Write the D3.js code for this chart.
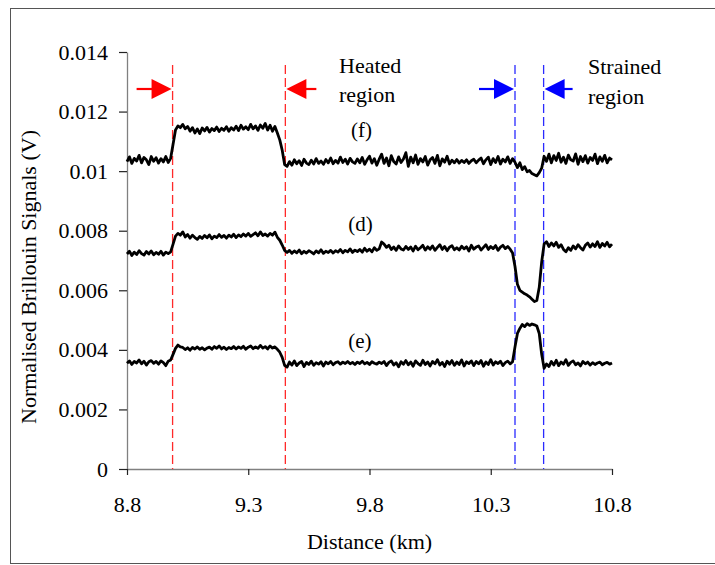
<!DOCTYPE html>
<html>
<head>
<meta charset="utf-8">
<script src="https://cdn.jsdelivr.net/npm/d3@7"></script>
<style>
body { margin: 0; background: #fff; }
svg, svg text { font-family: "Liberation Serif", "Times New Roman", serif !important; }
</style>
</head>
<body>
<div id="graph"></div>
<script>
!(function(){
"use strict"

// axis ticks
var xTicks = [8.8, 9.3, 9.8, 10.3, 10.8]
var yTicks = [0, 0.002, 0.004, 0.006, 0.008, 0.01, 0.012, 0.014]

var distStart = 8.8, distStep = 0.01
var traceF = [
	10.32,10.48,10.26,10.43,10.34,10.53,10.28,10.46,10.38,10.22,10.49,10.33,10.45,10.27,10.42,10.31,10.49,10.29,10.43,
	10.90,
	11.38,11.52,11.46,11.57,11.42,11.50,11.34,11.46,11.28,11.42,
	11.26,11.45,11.35,11.47,11.31,11.43,11.36,11.48,11.33,11.44,
	11.37,11.49,11.34,11.46,11.38,11.51,11.36,11.54,11.41,11.49,
	11.39,11.57,11.42,11.52,11.37,11.55,11.44,11.60,11.38,11.54,
	11.34,11.50,11.28,
	11.05,10.70,10.22,
	10.16,10.32,10.20,10.38,10.25,10.35,10.19,10.40,10.27,10.22,
	10.37,10.24,10.42,10.26,10.34,10.23,10.39,10.28,10.44,10.25,
	10.36,10.27,10.47,10.29,10.40,10.24,10.43,10.31,10.26,10.41,
	10.28,10.46,10.23,10.38,10.50,10.27,10.42,10.20,10.40,10.57,
	10.26,10.44,10.18,10.52,10.32,10.24,10.48,10.29,10.41,10.62,
	10.16,10.47,10.28,10.54,10.23,10.42,10.31,10.49,10.20,10.38,
	10.46,10.26,10.53,10.18,10.41,10.30,10.50,10.24,10.37,10.28,
	10.39,10.27,10.36,10.29,10.38,10.26,10.35,10.40,10.28,10.37,
	10.44,10.25,10.38,10.47,10.22,10.42,10.29,10.49,10.24,10.40,
	10.31,10.48,10.26,10.42,
	10.30,10.12,10.28,10.05,10.15,9.98,10.02,9.92,9.88,9.84,9.95,10.10,
	10.50,10.33,10.57,10.28,10.52,10.36,10.60,10.30,10.47,10.26,
	10.54,10.38,10.34,10.58,10.23,10.49,10.32,10.52,10.27,10.46,
	10.36,10.57,10.25,10.48,10.33,10.53,10.28,10.44,10.38
]
var traceD = [
	7.22,7.31,7.17,7.28,7.20,7.33,7.23,7.18,7.30,7.22,7.32,7.19,7.27,7.21,7.31,7.18,7.28,7.23,7.29,
	7.55,
	7.82,7.91,7.85,7.96,7.79,7.87,7.75,7.85,7.77,7.71,
	7.81,7.74,7.84,7.76,7.86,7.73,7.82,7.77,7.87,7.78,
	7.84,7.75,7.85,7.79,7.88,7.77,7.86,7.80,7.89,7.82,
	7.91,7.81,7.87,7.93,7.83,7.96,7.84,7.89,7.82,7.91,
	7.85,7.95,7.78,
	7.68,7.52,7.34,
	7.27,7.34,7.24,7.32,7.26,7.35,7.23,7.31,7.25,7.33,
	7.28,7.22,7.32,7.26,7.36,7.24,7.31,7.27,7.34,7.25,
	7.33,7.28,7.37,7.26,7.34,7.29,7.39,7.27,7.35,7.30,
	7.37,7.28,7.41,7.31,7.38,7.29,7.43,7.34,7.39,7.62,
	7.55,7.44,7.51,7.37,7.45,7.34,7.49,7.39,7.35,7.47,
	7.37,7.45,7.32,7.48,7.36,7.43,7.51,7.35,7.46,7.38,
	7.49,7.34,7.44,7.53,7.37,7.47,7.33,7.45,7.50,7.36,
	7.43,7.35,7.48,7.39,7.46,7.32,7.51,7.38,7.45,7.49,
	7.35,7.44,7.53,7.37,7.47,7.40,7.50,7.34,7.45,7.51,
	7.40,7.47,7.38,7.25,
	6.80,6.20,6.00,5.94,5.88,5.84,5.78,5.70,5.62,5.66,6.10,6.95,
	7.55,7.63,7.47,7.59,7.49,7.61,7.44,7.53,7.37,7.29,
	7.43,7.34,7.49,7.39,7.53,7.43,7.35,7.51,7.59,7.45,
	7.56,7.47,7.63,7.44,7.57,7.49,7.61,7.46,7.55
]
var traceE = [
	3.55,3.63,3.51,3.61,3.56,3.66,3.53,3.62,3.49,3.60,3.64,3.55,3.61,3.52,3.63,3.57,3.47,3.62,3.66,
	3.85,
	4.05,4.16,4.10,4.08,4.01,4.07,3.99,4.08,4.03,4.10,
	4.02,4.07,4.00,4.06,4.09,4.02,4.11,4.05,4.13,4.03,
	4.09,4.01,4.08,4.04,4.11,4.03,4.10,4.05,4.12,4.02,
	4.09,4.13,4.04,4.10,4.05,4.15,4.06,4.11,4.03,4.13,
	4.06,4.10,4.02,
	3.92,3.75,3.48,
	3.42,3.59,3.49,3.63,3.47,3.56,3.61,3.44,3.58,3.51,
	3.62,3.48,3.57,3.52,3.60,3.46,3.59,3.53,3.61,3.50,
	3.57,3.60,3.52,3.59,3.54,3.61,3.53,3.58,3.51,3.59,
	3.54,3.62,3.53,3.58,3.51,3.60,3.55,3.52,3.59,3.54,
	3.61,3.47,3.58,3.63,3.49,3.57,3.43,3.60,3.52,3.64,
	3.50,3.59,3.45,3.63,3.54,3.48,3.65,3.51,3.59,3.46,
	3.61,3.53,3.67,3.49,3.58,3.44,3.62,3.52,3.64,3.48,
	3.59,3.51,3.66,3.46,3.60,3.54,3.63,3.47,3.61,3.53,
	3.64,3.45,3.59,3.51,3.67,3.49,3.60,3.54,3.62,3.47,
	3.57,3.62,3.53,3.60,
	4.10,4.55,4.72,4.85,4.78,4.88,4.82,4.87,4.84,4.80,4.55,3.85,
	3.38,3.53,3.44,3.61,3.49,3.65,3.47,3.59,3.52,3.67,
	3.48,3.58,3.63,3.50,3.56,3.46,3.61,3.53,3.59,3.49,
	3.57,3.51,3.56,3.59,3.50,3.55,3.58,3.52,3.56
]
var traceNames = ["(f)", "(d)", "(e)"]
var heatedEdges = [8.988, 9.453]
var strainEdges = [10.40, 10.518]

var serif = "'Liberation Serif', 'Times New Roman', serif"
var width = 715, height = 565
var svg = d3.select("#graph").append("svg")
	.attr("width", width).attr("height", height)
	.style("font-family", serif)

// outer frame (right edge falls outside the picture)
svg.append("rect")
	.attr("x", 10.5).attr("y", 8.5).attr("width", 720).attr("height", 555)
	.attr("fill", "none").attr("stroke", "#555").attr("stroke-width", 1)

var x = d3.scaleLinear().domain([8.8, 10.8]).range([127, 612])
var y = d3.scaleLinear().domain([0, 0.014]).range([469, 52])

var yAxis = svg.append("g")
	.attr("transform", "translate(127,0)")
	.call(d3.axisLeft(y).tickValues(yTicks).tickSize(8).tickPadding(11).tickSizeOuter(0)
		.tickFormat(function(d){ return d === 0 ? "0" : String(+d.toFixed(3)) }))
var xAxis = svg.append("g")
	.attr("transform", "translate(0,469)")
	.call(d3.axisBottom(x).tickValues(xTicks).tickSize(6).tickSizeOuter(0)
		.tickFormat(function(d){ return String(d) }))
xAxis.selectAll("text").attr("y", 43).attr("dy", null)
svg.selectAll(".domain").attr("stroke", "#808080").attr("stroke-width", 1.3)
svg.selectAll(".tick line").attr("stroke", "#222").attr("stroke-width", 1.2)
yAxis.attr("font-family", null).attr("font-size", null)
xAxis.attr("font-family", null).attr("font-size", null)
svg.selectAll(".tick text").style("font-size", "22px").style("font-family", serif).attr("fill", "#000")

// axis titles
svg.append("text")
	.attr("x", (127 + 612) / 2).attr("y", 549)
	.attr("text-anchor", "middle").style("font-size", "22px")
	.text("Distance (km)")
svg.append("text")
	.attr("transform", "translate(36,277) rotate(-90)")
	.attr("text-anchor", "middle").style("font-size", "22px")
	.text("Normalised Brillouin Signals (V)")

// region boundary lines
function edgeLines(edges, color) {
	svg.append("g").selectAll("line")
		.data(edges).enter().append("line")
		.attr("x1", function(d){ return x(d) }).attr("x2", function(d){ return x(d) })
		.attr("y1", 65).attr("y2", y(0))
		.attr("stroke", color).attr("stroke-width", 1.3)
		.attr("stroke-dasharray", "9,4")
}
edgeLines(heatedEdges, "#ff2a2a")
edgeLines(strainEdges, "#2a2aff")

// arrows pointing at the region boundaries
function arrow(tipX, dir, len, color) {
	var ay = 89
	var g = svg.append("g")
	g.append("line")
		.attr("x1", tipX - dir * len).attr("x2", tipX - dir * 18)
		.attr("y1", ay).attr("y2", ay)
		.attr("stroke", color).attr("stroke-width", 2.2)
	g.append("path")
		.attr("d", "M" + tipX + "," + ay + "L" + (tipX - dir * 20) + "," + (ay - 10) +
			"L" + (tipX - dir * 20) + "," + (ay + 10) + "Z")
		.attr("fill", color)
}
arrow(x(heatedEdges[0]) - 1, 1, 35, "#ff0000")
arrow(x(heatedEdges[1]) + 1, -1, 30, "#ff0000")
arrow(x(strainEdges[0]) - 1, 1, 35, "#0000ff")
arrow(x(strainEdges[1]) + 1, -1, 28, "#0000ff")

var note = svg.append("g").style("font-size", "22px").attr("fill", "#000")
note.append("text").attr("x", 339).attr("y", 73).text("Heated")
note.append("text").attr("x", 339).attr("y", 102).text("region")
note.append("text").attr("x", 588).attr("y", 74).text("Strained")
note.append("text").attr("x", 588).attr("y", 104).text("region")

// traces
var line = d3.line()
	.x(function(d, i){ return x(distStart + i * distStep) })
	.y(function(d){ return y(d / 1000) })
svg.append("g").selectAll("path")
	.data([traceF, traceD, traceE]).enter().append("path")
	.attr("d", line)
	.attr("fill", "none").attr("stroke", "#000")
	.attr("stroke-width", 2.8).attr("stroke-linejoin", "round")

// trace labels
var labelPos = [[9.767, 0.01114], [9.763, 0.00798], [9.76, 0.00405]]
svg.append("g").selectAll("text")
	.data(traceNames).enter().append("text")
	.attr("x", function(d, i){ return x(labelPos[i][0]) })
	.attr("y", function(d, i){ return y(labelPos[i][1]) })
	.attr("text-anchor", "middle").style("font-size", "21px")
	.text(function(d){ return d })
}());
</script>
</body>
</html>
